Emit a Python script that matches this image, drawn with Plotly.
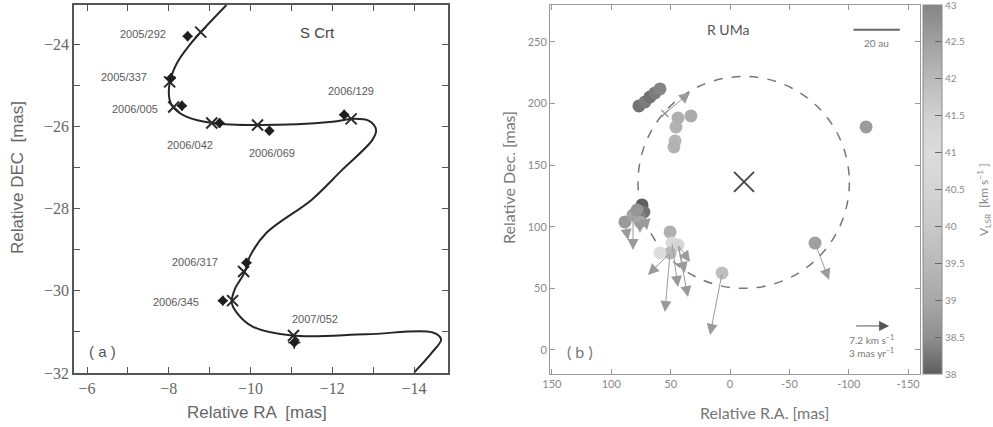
import plotly.graph_objects as go

# ---------------- Panel (a): S Crt ----------------
curve_ra = [-9.41, -8.78, -8.51, -8.20, -8.02, -8.02, -8.12, -8.44, -9.07, -10.22, -12.00,
            -12.49, -12.90, -13.07, -12.98, -12.24, -11.49, -10.39, -9.98, -9.85, -9.61,
            -9.54, -9.66, -10.05, -11.02, -12.83, -14.44, -14.66, -14.44, -14.00]
curve_dec = [-23.05, -23.71, -24.02, -24.46, -24.95, -25.36, -25.55, -25.77, -25.92, -25.97, -25.89,
             -25.82, -25.87, -26.09, -26.33, -27.06, -27.79, -28.59, -29.17, -29.56, -29.97,
             -30.29, -30.53, -30.87, -31.09, -31.06, -31.01, -31.18, -31.50, -31.99]

epochs = ["2005/292", "2005/337", "2006/005", "2006/042", "2006/069",
          "2006/129", "2006/317", "2006/345", "2007/052"]
obs_ra = [-8.46, -8.05, -8.32, -9.24, -10.46, -12.29, -9.90, -9.32, -11.07]
obs_dec = [-23.81, -24.83, -25.50, -25.92, -26.11, -25.72, -29.32, -30.24, -31.26]
obs_err = [0.12, 0.12, 0.12, 0.12, 0.10, 0.12, 0.12, 0.12, 0.15]
model_ra = [-8.78, -8.02, -8.12, -9.05, -10.17, -12.46, -9.83, -9.56, -11.05]
model_dec = [-23.71, -24.92, -25.53, -25.92, -25.97, -25.82, -29.53, -30.24, -31.09]

# ---------------- Panel (b): R UMa ----------------
spot_ra = [76.7, 71.6, 67.4, 63.2, 59.0,
           43.8, 45.5, 46.3, 47.2, 32.9,
           -114.6, -71.6, 6.7,
           74.1, 72.5, 88.5, 81.7, 75.8, 78.3,
           50.5, 48.9, 43.8, 50.5, 59.0]
spot_dec = [198.1, 201.3, 205.4, 208.6, 211.9,
            188.3, 181.0, 169.6, 164.8, 190.0,
            181.0, 86.8, 62.5,
            117.7, 112.0, 103.9, 109.6, 103.9, 113.6,
            95.8, 86.9, 85.2, 78.7, 78.7]
spot_vlsr = [38.2, 38.3, 38.2, 38.3, 38.4,
             39.2, 39.3, 39.4, 39.3, 39.1,
             42.6, 42.5, 39.7,
             38.0, 38.2, 38.7, 38.9, 39.0, 38.6,
             39.2, 40.8, 41.3, 39.5, 41.0]

pm_start_ra = [88.5, 81.7, 75.8, 72.5, 50.5, 50.5, 48.9, 43.8, 43.8, 43.8, 6.7, -71.6, 54.8]
pm_start_dec = [103.9, 109.6, 103.9, 112.0, 78.7, 78.7, 86.9, 85.2, 85.2, 85.2, 62.5, 86.8, 192.0]
pm_end_ra = [85.9, 81.7, 75.8, 69.9, 69.1, 54.8, 43.8, 35.4, 33.7, 38.0, 16.8, -83.4, 33.7]
pm_end_dec = [89.3, 81.2, 95.0, 97.4, 60.9, 30.8, 51.1, 43.0, 71.4, 62.5, 12.2, 57.0, 209.0]

star_ra = [-11.8]
star_dec = [136.4]
shell_center = (-11.5, 136.0)
shell_radius_ra = 89.0
shell_radius_dec = 86.0

small_x_ra = [54.8]
small_x_dec = [192.0]

scalebar_ra = [-104.0, -143.0]
scalebar_dec = 260.0
ref_arrow_ra = [-105.0, -134.0]
ref_arrow_dec = 19.5

cb_ticks = [38, 38.5, 39, 39.5, 40, 40.5, 41, 41.5, 42, 42.5, 43]
b_ticks = [150, 100, 50, 0, -50, -100, -150]
b_yticks = [0, 50, 100, 150, 200, 250]

gray_scale = [[0.0, "#5e5e5e"], [0.1, "#909090"], [0.2, "#a8a8a8"], [0.3, "#b9b9b9"],
              [0.4, "#c9c9c9"], [0.5, "#d4d4d4"], [0.6, "#dcdcdc"], [0.7, "#d0d0d0"],
              [0.8, "#bababa"], [0.9, "#a0a0a0"], [1.0, "#858585"]]

fig = go.Figure()

# panel a traces
fig.add_trace(go.Scatter(x=curve_ra, y=curve_dec, mode="lines",
                         line=dict(color="#262626", width=2, shape="spline", smoothing=1.0),
                         xaxis="x", yaxis="y", showlegend=False, hoverinfo="skip"))
fig.add_trace(go.Scatter(x=model_ra, y=model_dec, mode="markers",
                         marker=dict(symbol="x-thin-open", size=11, color="#2a2a2a",
                                     line=dict(color="#2a2a2a", width=2)),
                         xaxis="x", yaxis="y", showlegend=False))
fig.add_trace(go.Scatter(x=obs_ra, y=obs_dec, mode="markers",
                         marker=dict(symbol="diamond", size=8, color="#1e1e1e"),
                         error_x=dict(type="data", array=obs_err, color="#1e1e1e", thickness=1.5, width=0),
                         error_y=dict(type="data", array=obs_err, color="#1e1e1e", thickness=1.5, width=0),
                         xaxis="x", yaxis="y", showlegend=False))

# panel b traces
fig.add_trace(go.Scatter(x=spot_ra, y=spot_dec, mode="markers",
                         marker=dict(size=13, color=spot_vlsr, colorscale=gray_scale, cmin=38, cmax=43,
                                     line=dict(width=0),
                                     colorbar=dict(x=923/993, xanchor="left", y=1-189.5/427, yanchor="middle",
                                                   len=369/427, lenmode="fraction", thickness=19,
                                                   outlinecolor="#8a8a8a", outlinewidth=1,
                                                   tickvals=cb_ticks, ticktext=[("%g" % t) for t in cb_ticks],
                                                   ticks="inside", ticklen=7, tickcolor="#666", tickwidth=1,
                                                   ticklabeloverflow="allow",
                                                   tickfont=dict(family="Lato", size=10, color="#8a8a8a"),
                                                   ypad=0, xpad=0)),
                         xaxis="x2", yaxis="y2", showlegend=False))
fig.add_trace(go.Scatter(x=star_ra, y=star_dec, mode="markers",
                         marker=dict(symbol="x-thin-open", size=20, color="#444",
                                     line=dict(color="#444", width=1.8)),
                         xaxis="x2", yaxis="y2", showlegend=False))
fig.add_trace(go.Scatter(x=small_x_ra, y=small_x_dec, mode="markers",
                         marker=dict(symbol="x-thin-open", size=7, color="#999",
                                     line=dict(color="#999", width=1.5)),
                         xaxis="x2", yaxis="y2", showlegend=False))
fig.add_trace(go.Scatter(x=scalebar_ra, y=[scalebar_dec, scalebar_dec], mode="lines",
                         line=dict(color="#666", width=2), xaxis="x2", yaxis="y2", showlegend=False))

shapes = [dict(type="circle", xref="x2", yref="y2",
               x0=shell_center[0] - shell_radius_ra, x1=shell_center[0] + shell_radius_ra,
               y0=shell_center[1] - shell_radius_dec, y1=shell_center[1] + shell_radius_dec,
               line=dict(color="#777", width=1.5, dash="dash"), layer="below")]

annotations = []
lab_shift = [(-45, 2), (-47, 1), (-47, -3), (-30, -22), (3, -22), (7, 24), (-51, 1), (-47, -1), (21, 24)]
for e, xr, yd, (dx, dy) in zip(epochs, obs_ra, obs_dec, lab_shift):
    annotations.append(dict(x=xr, y=yd, xref="x", yref="y", text=e, showarrow=False,
                            xshift=dx, yshift=dy, font=dict(family="Liberation Sans", size=11, color="#5a5a5a")))
annotations.append(dict(x=-11.63, y=-23.71, xref="x", yref="y", text="S Crt", showarrow=False,
                        font=dict(family="Liberation Sans", size=15, color="#444")))
annotations.append(dict(x=-6.37, y=-31.48, xref="x", yref="y", text="( a )", showarrow=False,
                        font=dict(family="Liberation Sans", size=15, color="#555")))
annotations.append(dict(x=1.7, y=260, xref="x2", yref="y2", text="R UMa", showarrow=False,
                        font=dict(family="Lato", size=14, color="#555")))
annotations.append(dict(x=126, y=-1.6, xref="x2", yref="y2", text="( b )", showarrow=False,
                        font=dict(family="Lato", size=16, color="#777")))
annotations.append(dict(x=sum(scalebar_ra) / 2, y=scalebar_dec, xref="x2", yref="y2", text="20 au",
                        showarrow=False, yshift=-13, font=dict(family="Lato", size=10, color="#777")))
for x0, y0, x1, y1 in zip(pm_start_ra, pm_start_dec, pm_end_ra, pm_end_dec):
    annotations.append(dict(x=x1, y=y1, ax=x0, ay=y0, xref="x2", yref="y2", axref="x2", ayref="y2",
                            text="", showarrow=True, arrowhead=2, arrowsize=2.2, arrowwidth=1,
                            arrowcolor="#9a9a9a"))
annotations.append(dict(x=ref_arrow_ra[1], y=ref_arrow_dec, ax=ref_arrow_ra[0], ay=ref_arrow_dec,
                        xref="x2", yref="y2", axref="x2", ayref="y2", text="", showarrow=True,
                        arrowhead=2, arrowsize=2.0, arrowwidth=1, arrowcolor="#555"))
annotations.append(dict(x=sum(ref_arrow_ra) / 2, y=ref_arrow_dec, xref="x2", yref="y2",
                        text="7.2 km s<sup>−1</sup><br>3 mas yr<sup>−1</sup>", showarrow=False,
                        yshift=-20, align="center", font=dict(family="Lato", size=10, color="#777")))

# axis titles
annotations.append(dict(x=257/993, y=1-412/427, xref="paper", yref="paper", text="Relative RA  [mas]",
                        xanchor="center", yanchor="middle",
                        showarrow=False, font=dict(family="Liberation Sans", size=17, color="#666")))
annotations.append(dict(x=17/993, y=1-178/427, xref="paper", yref="paper", text="Relative DEC  [mas]",
                        xanchor="center", yanchor="middle",
                        textangle=-90, showarrow=False, font=dict(family="Liberation Sans", size=17, color="#666")))
annotations.append(dict(x=764/993, y=1-412/427, xref="paper", yref="paper", text="Relative R.A. [mas]",
                        xanchor="center", yanchor="middle",
                        showarrow=False, font=dict(family="Lato", size=16, color="#777")))
annotations.append(dict(x=508/993, y=1-178/427, xref="paper", yref="paper", text="Relative Dec. [mas]",
                        xanchor="center", yanchor="middle",
                        textangle=-90, showarrow=False, font=dict(family="Lato", size=16, color="#777")))
annotations.append(dict(x=984/993, y=1-200/427, xref="paper", yref="paper",
                        text="V<sub>LSR</sub>  [km s<sup>−1</sup> ]",
                        xanchor="center", yanchor="middle",
                        textangle=-90, showarrow=False, font=dict(family="Lato", size=12, color="#888")))

axis_a = dict(showgrid=False, zeroline=False, showline=True, linecolor="#555", linewidth=1.5, mirror="ticks",
              ticks="inside", ticklen=6, tickcolor="#555", tickwidth=1.2,
              tickfont=dict(family="Liberation Serif", size=16, color="#666"),
              minor=dict(ticks="inside", ticklen=6, tickcolor="#555", dtick=1, showgrid=False))
axis_b = dict(showgrid=False, zeroline=False, showline=True, linecolor="#999", linewidth=1, mirror="ticks",
              ticks="inside", ticklen=5, tickcolor="#999", tickwidth=1,
              tickfont=dict(family="Lato", size=11, color="#888"))

fig.update_layout(
    template="none",
    width=993, height=427, autosize=False,
    margin=dict(l=0, r=0, t=0, b=0),
    paper_bgcolor="white", plot_bgcolor="white",
    xaxis=dict(axis_a, domain=[74/993, 448/993], range=[-5.68, -14.83], dtick=2, anchor="y"),
    yaxis=dict(axis_a, domain=[1-373/427, 1-5/427], range=[-32, -23.05], dtick=2, anchor="x"),
    xaxis2=dict(axis_b, domain=[550/993, 920/993], range=[151.6, -160], tickvals=b_ticks,
                ticktext=[str(t) for t in b_ticks], anchor="y2"),
    yaxis2=dict(axis_b, domain=[1-374/427, 1-5/427], range=[-19.5, 280], tickvals=b_yticks,
                ticktext=[str(t) for t in b_yticks], anchor="x2"),
    shapes=shapes, annotations=annotations,
)

fig.write_html("out.html", config={"displayModeBar": False},
               post_script="document.body.style.margin='0';document.body.style.overflow='hidden';")
